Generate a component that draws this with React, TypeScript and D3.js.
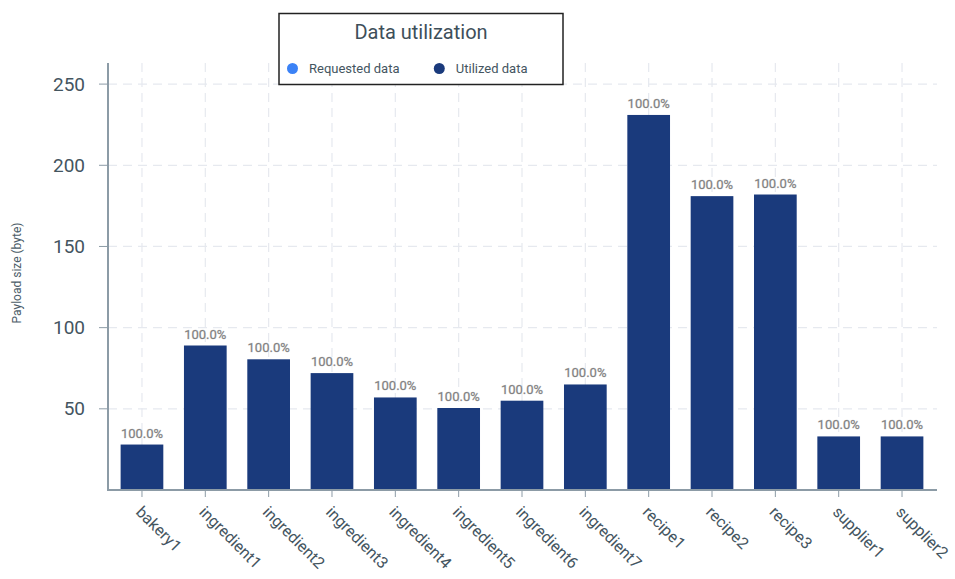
import React from "react";
import * as d3 from "d3";

const categories = [
  "bakery1", "ingredient1", "ingredient2", "ingredient3", "ingredient4", "ingredient5",
  "ingredient6", "ingredient7", "recipe1", "recipe2", "recipe3", "supplier1", "supplier2",
];
const utilized = [28, 89, 80.5, 72, 57, 50.5, 55, 65, 231, 181, 182, 33, 33];
const utilizationPct = [100, 100, 100, 100, 100, 100, 100, 100, 100, 100, 100, 100, 100];
const yTicks = [50, 100, 150, 200, 250];
const legendItems = ["Requested data", "Utilized data"];
const legendColors = ["#3b82f6", "#1a3a7c"];

const W = 955;
const H = 579;
const FONT = "Roboto, 'Noto Sans', sans-serif";

export default function App() {
  const y = d3.scaleLinear().domain([0, 263]).range([490, 63]);
  const x = d3
    .scaleBand<string>()
    .domain(categories)
    .range([110.3, 933.7])
    .paddingInner(0.326)
    .paddingOuter(0.163);
  const bw = x.bandwidth();
  const textColor = "#44555f";

  return (
    <svg
      width={W}
      height={H}
      style={{ position: "absolute", left: 0, top: 0, background: "#fff" }}
      fontFamily={FONT}
    >
      {/* grid */}
      {yTicks.map((t) => (
        <line key={"gy" + t} x1={108} x2={937} y1={y(t)} y2={y(t)} stroke="#e6e9ef" strokeWidth={1.2} strokeDasharray="9 6" />
      ))}
      {categories.map((c) => {
        const cx = (x(c) as number) + bw / 2;
        return <line key={"gx" + c} x1={cx} x2={cx} y1={63} y2={490} stroke="#e6e9ef" strokeWidth={1.2} strokeDasharray="9 6" />;
      })}

      {/* bars */}
      {categories.map((c, i) => (
        <rect key={"b" + c} x={x(c) as number} y={y(utilized[i])} width={bw} height={490 - y(utilized[i])} fill="#1a3a7c" />
      ))}
      {categories.map((c, i) => (
        <text
          key={"l" + c}
          x={(x(c) as number) + bw / 2}
          y={y(utilized[i]) - 7}
          textAnchor="middle"
          fontSize={13}
          fill="#808080"
          stroke="#cfcfcf"
          strokeWidth={0.6}
          paintOrder="stroke"
        >
          {utilizationPct[i].toFixed(1) + "%"}
        </text>
      ))}

      {/* axes */}
      <line x1={108} x2={108} y1={63} y2={491} stroke="#8c9ba6" strokeWidth={2} />
      <line x1={107} x2={937} y1={490} y2={490} stroke="#8c9ba6" strokeWidth={2} />
      {yTicks.map((t) => (
        <g key={"yt" + t}>
          <line x1={99} x2={108} y1={y(t)} y2={y(t)} stroke="#8c9ba6" strokeWidth={1} />
          <text x={85} y={y(t)} dy="0.35em" textAnchor="end" fontSize={19} fill={textColor}>
            {t}
          </text>
        </g>
      ))}
      {categories.map((c) => {
        const cx = (x(c) as number) + bw / 2;
        return (
          <g key={"xt" + c}>
            <line x1={cx} x2={cx} y1={490} y2={497} stroke="#8c9ba6" strokeWidth={1} />
            <text
              transform={`translate(${cx - 3},${509}) rotate(45)`}
              fontSize={16}
              fill={textColor}
              textAnchor="start"
              dy="0.35em"
            >
              {c}
            </text>
          </g>
        );
      })}
      <text transform={`translate(21,273) rotate(-90)`} textAnchor="middle" fontSize={12} fill="#4c5d68">
        Payload size (byte)
      </text>

      {/* legend */}
      <rect x={279} y={13.5} width={284} height={71} fill="#fff" stroke="#222" strokeWidth={1.5} />
      <text x={421} y={39} textAnchor="middle" fontSize={20} fill="#3e4f5a">
        Data utilization
      </text>
      {legendItems.map((l, i) => {
        const cx = i === 0 ? 292.5 : 439.3;
        return (
          <g key={"lg" + l}>
            <circle cx={cx} cy={68.5} r={5.5} fill={legendColors[i]} />
            <text x={cx + 16.5} y={68.5} dy="0.35em" fontSize={13} fill={textColor}>
              {l}
            </text>
          </g>
        );
      })}
    </svg>
  );
}
